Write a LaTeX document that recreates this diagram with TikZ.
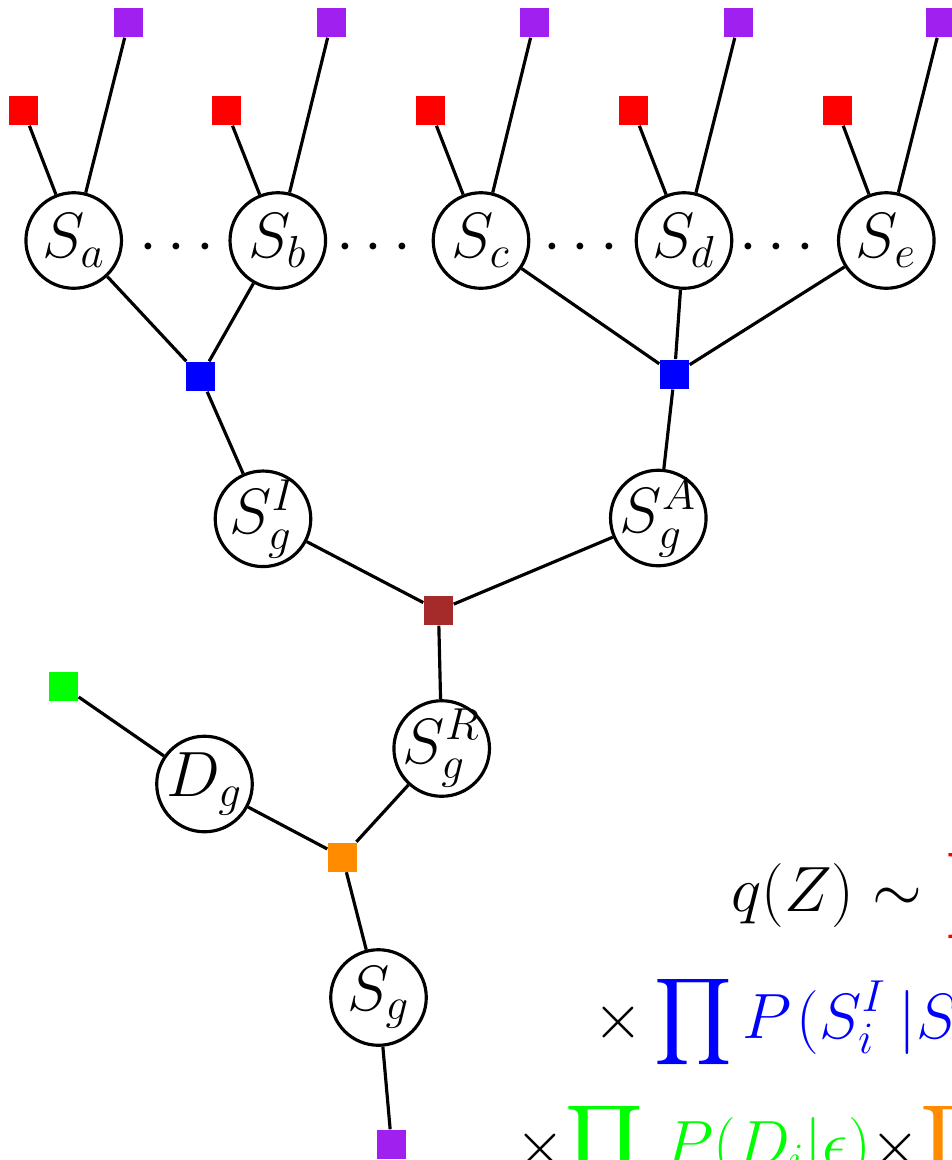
\RequirePackage{fix-cm}
\documentclass[tikz,border=0pt]{standalone}
\usepackage{amsmath}
\definecolor{facred}{RGB}{255,0,0}
\definecolor{facpurple}{RGB}{160,32,240}
\definecolor{facblue}{RGB}{0,0,255}
\definecolor{facbrown}{RGB}{165,42,42}
\definecolor{facgreen}{RGB}{0,255,0}
\definecolor{facorange}{RGB}{255,140,0}
\newcommand{\bigfont}{\fontsize{18.2}{22}\selectfont}
\begin{document}
\begin{tikzpicture}[x=0.01cm,y=-0.01cm,
    var/.style={circle,draw,line width=0.9pt,minimum size=0.955cm,inner sep=-4pt,font=\bigfont},
    fac/.style={rectangle,fill=#1,minimum size=0.29cm,inner sep=0pt},
    edge/.style={line width=0.9pt},
    eqline/.style={anchor=base west,inner sep=0pt,font=\bigfont}]
        \useasboundingbox (0,0) rectangle (951,1160);

        % top row of variables
        \node[var] (Sa) at (73.7,240.5)  {$S_a$};
        \node[var] (Sb) at (277.8,240.5) {$S_b$};
        \node[var] (Sc) at (481,240.5)   {$S_c$};
        \node[var] (Sd) at (684,240.5)   {$S_d$};
        \node[var] (Se) at (886.3,240.5) {$S_e$};
        \node[anchor=base,inner sep=0pt,font=\bigfont] (dab) at (182,262) {$\cdots$};
        \node[anchor=base,inner sep=0pt,font=\bigfont] (dbc) at (379,262) {$\cdots$};
        \node[anchor=base,inner sep=0pt,font=\bigfont] (dcd) at (586,262) {$\cdots$};
        \node[anchor=base,inner sep=0pt,font=\bigfont] (dde) at (782,262) {$\cdots$};

        \node[fac=facred] (Ra) at (23.5,110.5)  {};
        \node[fac=facred] (Rb) at (226.5,110.5) {};
        \node[fac=facred] (Rc) at (430.5,110.5) {};
        \node[fac=facred] (Rd) at (633.4,110.5) {};
        \node[fac=facred] (Re) at (837.5,110.5) {};
        \node[fac=facpurple] (Pa) at (128.5,22.5) {};
        \node[fac=facpurple] (Pb) at (331.4,22.5) {};
        \node[fac=facpurple] (Pc) at (534.3,22.5) {};
        \node[fac=facpurple] (Pd) at (738.6,22.5) {};
        \node[fac=facpurple] (Pe) at (941,22.5)   {};

        % middle of the tree
        \node[fac=facblue] (Bi) at (200.5,376.5) {};
        \node[fac=facblue] (Ba) at (674.5,374.3) {};
        \node[var] (SgI) at (263,518.8) {$S_g^I$};
        \node[var] (SgA) at (658.3,518) {$S_g^A$};
        \node[fac=facbrown] (Br) at (438.5,610.5) {};
        \node[var] (SgR) at (441.7,748.5) {$S_g^R$};

        % bottom
        \node[fac=facgreen] (Gr) at (63.5,686.5) {};
        \node[var] (Dg) at (204.5,784) {$D_g$};
        \node[fac=facorange] (Or) at (342.5,857) {};
        \node[var] (Sg) at (378.5,997.5) {$S_g$};
        \node[fac=facpurple] (Pg) at (391.5,1144.5) {};

        \draw[edge] (Ra) -- (Sa);  \draw[edge] (Pa) -- (Sa);
        \draw[edge] (Rb) -- (Sb);  \draw[edge] (Pb) -- (Sb);
        \draw[edge] (Rc) -- (Sc);  \draw[edge] (Pc) -- (Sc);
        \draw[edge] (Rd) -- (Sd);  \draw[edge] (Pd) -- (Sd);
        \draw[edge] (Re) -- (Se);  \draw[edge] (Pe) -- (Se);
        \draw[edge] (Sa) -- (Bi);  \draw[edge] (Sb) -- (Bi);
        \draw[edge] (Sc) -- (Ba);  \draw[edge] (Sd) -- (Ba);
        \draw[edge] (Se) -- (Ba);
        \draw[edge] (Bi) -- (SgI); \draw[edge] (Ba) -- (SgA);
        \draw[edge] (SgI) -- (Br); \draw[edge] (SgA) -- (Br);
        \draw[edge] (Br) -- (SgR);
        \draw[edge] (Gr) -- (Dg);
        \draw[edge] (Dg) -- (Or);  \draw[edge] (SgR) -- (Or);
        \draw[edge] (Or) -- (Sg);
        \draw[edge] (Sg) -- (Pg);

        % the distribution
        \node[eqline] (eqa) at (731,911.7)
            {$\displaystyle q(Z)\sim\mkern1.5mu\color{facred}\prod$};
        \node[eqline] (eqb) at (593,1038)
            {$\displaystyle \times\color{facblue}\prod P\mkern1.5mu(S_i^I\mkern3.5mu|S$};
        \node[eqline] (eqc) at (515,1165)
            {$\displaystyle {\times}{\color{facgreen}\prod\,P(D_i|\epsilon)}{\times}{\color{facorange}\prod}$};
\end{tikzpicture}
\end{document}
